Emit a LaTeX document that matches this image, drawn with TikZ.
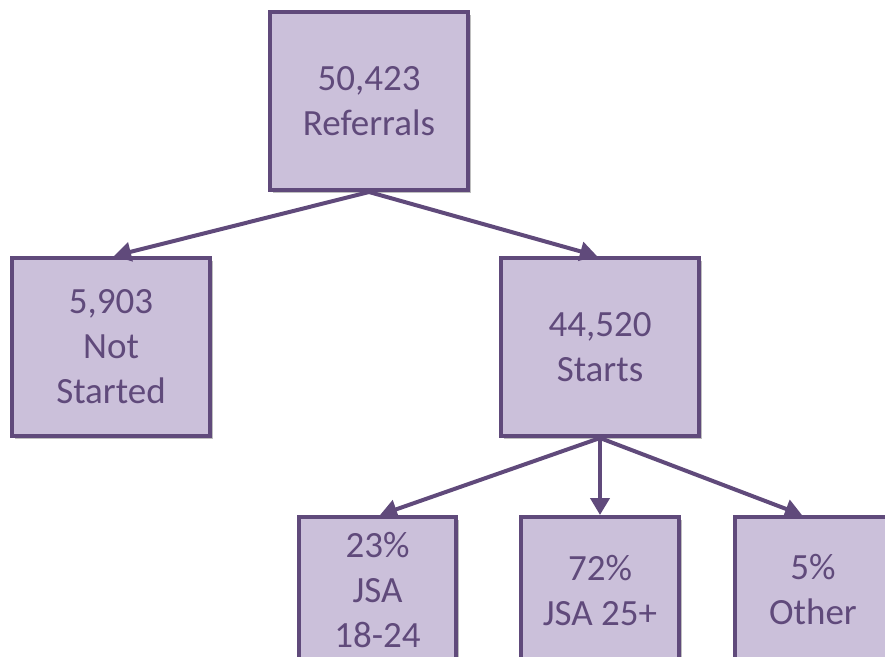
\documentclass[tikz,border=0pt]{standalone}
\usepackage{fontspec}
\setmainfont{Carlito}
\usetikzlibrary{arrows.meta,shadows}
\definecolor{boxfill}{HTML}{CBC0DA}
\definecolor{boxline}{HTML}{604A7B}
\tikzset{
  boxfont/.style={text=boxline, align=center, font=\fontsize{37}{45}\selectfont},
  box/.style={draw=boxline, fill=boxfill, line width=4pt, boxfont, inner sep=0pt,
    drop shadow={shadow xshift=3pt, shadow yshift=-3pt, fill=black, opacity=0.25}},
  bigbox/.style={box, minimum width=198pt, minimum height=178pt},
  smallbox/.style={box, minimum width=157pt, minimum height=146pt},
  conn/.style={draw=boxline, line width=4pt, -{Triangle[length=17pt,width=19pt]}}
}
\begin{document}
\begin{tikzpicture}[x=1pt,y=-1pt]
\useasboundingbox (0,0) rectangle (885,656);
\begin{scope}
\clip (0,0) rectangle (885,656);
\node[bigbox] (ref) at (369,101) {50,423\\Referrals};
\node[bigbox] (ns) at (111,347) {5,903\\Not\\Started};
\node[bigbox] (st) at (600,347) {44,520\\Starts};
\node[smallbox] (j1) at (377.5,590) {23\%\\JSA\\18-24};
\node[smallbox, minimum width=158pt] (j2) at (600,590) {72\%\\JSA 25+};
\node[smallbox, minimum width=240pt,
  label={[boxfont, inner sep=0pt, xshift=-42pt]center:{5\%\\Other}}] (j3) at (855,590) {};
\draw[conn] (ref.south) -- ([xshift=-255pt]ref.south |- ns.north);
\draw[conn] (ref.south) -- ([xshift=228pt]ref.south |- st.north);
\draw[conn] (st.south) -- ([xshift=-220pt]st.south |- j1.north);
\draw[conn] (st.south) -- (j2.north);
\draw[conn] (st.south) -- ([xshift=202pt]st.south |- j3.north);
\end{scope}
\end{tikzpicture}
\end{document}
